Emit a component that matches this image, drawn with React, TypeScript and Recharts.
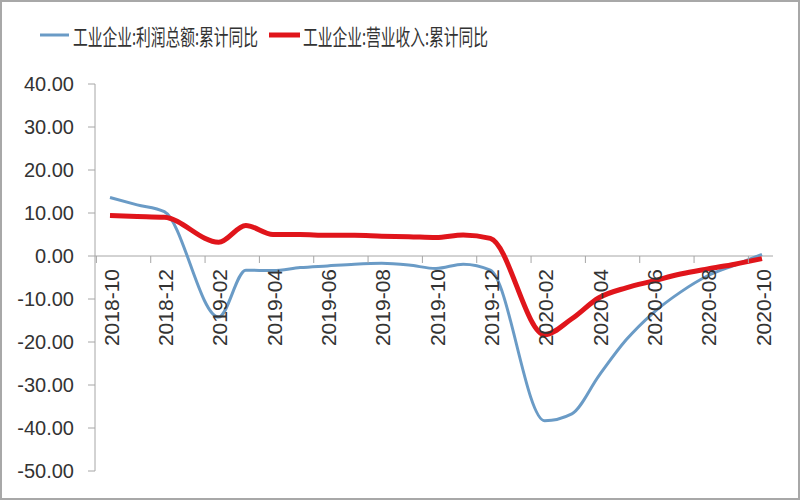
import { LineChart, Line, XAxis, YAxis, ReferenceLine } from "recharts";

// monthly cumulative YoY (%), January not published -> null
const months = [
  "2018-10", "2018-11", "2018-12", "2019-01", "2019-02", "2019-03", "2019-04",
  "2019-05", "2019-06", "2019-07", "2019-08", "2019-09", "2019-10", "2019-11",
  "2019-12", "2020-01", "2020-02", "2020-03", "2020-04", "2020-05", "2020-06",
  "2020-07", "2020-08", "2020-09", "2020-10",
];
const profit = [
  13.6, 11.9, 10.3, null, -14.2, -3.3, -3.4, -2.7, -2.3, -1.9, -1.7, -2.1, -2.9,
  -1.9, -3.3, null, -38.3, -36.7, -27.8, -19.5, -13.2, -8.4, -4.6, -2.1, 0.4,
];
const revenue = [
  9.4, 9.2, 9.0, null, 3.2, 7.1, 5.0, 5.0, 4.8, 4.8, 4.6, 4.5, 4.3, 4.9, 4.1,
  null, -18.3, -14.6, -9.7, -7.4, -5.8, -4.2, -3.0, -1.9, -0.6,
];
const yTicks = [-50, -40, -30, -20, -10, 0, 10, 20, 30, 40];

const PROFIT_NAME = "工业企业:利润总额:累计同比";
const REVENUE_NAME = "工业企业:营业收入:累计同比";

const data = months.map((m, i) => ({ month: m, profit: profit[i], revenue: revenue[i] }));

const W = 800;
const H = 500;
const TOP = 84;
const BOTTOM = 29;
const PLOT_H = H - TOP - BOTTOM;
const Y_MIN = -50;
const Y_MAX = 40;
const ZERO_Y = TOP + (PLOT_H * Y_MAX) / (Y_MAX - Y_MIN);
const HALF_STEP = 13.6;

const BLUE = "#6a9bc6";
const RED = "#e0151b";
const AXIS = "#a6a6a6";
const TEXT = "#333333";
const FONT = "'Liberation Sans', Arial, sans-serif";
const CJK = "'Noto Sans CJK SC', sans-serif";

const XTick = (props: any) => {
  const { x, payload } = props;
  return (
    <g>
      <line x1={x - HALF_STEP} x2={x - HALF_STEP} y1={ZERO_Y} y2={ZERO_Y + 7} stroke={AXIS} />
      <text
        transform={`translate(${x + 1},${ZERO_Y + 13}) rotate(-90)`}
        textAnchor="end"
        dominantBaseline="central"
        fontSize={21}
        fontFamily={FONT}
        fill={TEXT}
      >
        {payload.value}
      </text>
    </g>
  );
};

const LegendBox = () => (
  <svg
    width={W}
    height={44}
    style={{ position: "absolute", left: 0, top: 14, pointerEvents: "none" }}
  >
    <line x1={40} x2={69} y1={21} y2={21} stroke={BLUE} strokeWidth={3} />
    <g transform="translate(73,21) scale(0.67,1)">
      <text x={0} y={0} dominantBaseline="central" fontSize={22} fontFamily={CJK} fill={TEXT}>
        {PROFIT_NAME}
      </text>
    </g>
    <line x1={269} x2={300} y1={21} y2={21} stroke={RED} strokeWidth={5} />
    <g transform="translate(303,21) scale(0.67,1)">
      <text x={0} y={0} dominantBaseline="central" fontSize={22} fontFamily={CJK} fill={TEXT}>
        {REVENUE_NAME}
      </text>
    </g>
  </svg>
);

export default function App() {
  return (
    <div style={{ position: "absolute", left: 0, top: 0, width: W, height: H, background: "#fff" }}>
      <LineChart width={W} height={H} data={data} margin={{ top: TOP, right: 27, bottom: 0, left: 0 }}>
        <XAxis
          dataKey="month"
          height={BOTTOM}
          axisLine={false}
          tickLine={false}
          interval={1}
          padding={{ left: 15, right: 11 }}
          tick={<XTick />}
        />
        <YAxis
          width={95}
          domain={[Y_MIN, Y_MAX]}
          ticks={yTicks}
          allowDataOverflow
          tickFormatter={(v: number) => v.toFixed(2)}
          axisLine={{ stroke: AXIS }}
          tickLine={{ stroke: AXIS }}
          tickSize={7}
          tickMargin={14}
          tick={{ fontSize: 20, fill: TEXT, fontFamily: FONT }}
        />
        <ReferenceLine y={0} stroke={AXIS} strokeWidth={1} />
        <Line
          dataKey="profit"
          name={PROFIT_NAME}
          type="monotone"
          stroke={BLUE}
          strokeWidth={3}
          dot={false}
          connectNulls
          isAnimationActive={false}
        />
        <Line
          dataKey="revenue"
          name={REVENUE_NAME}
          type="monotone"
          stroke={RED}
          strokeWidth={5}
          dot={false}
          connectNulls
          isAnimationActive={false}
        />
      </LineChart>
      <LegendBox />
      <div
        style={{
          position: "absolute",
          left: 0,
          top: 0,
          width: W,
          height: H,
          boxSizing: "border-box",
          border: "2px solid #a8a8a8",
          pointerEvents: "none",
        }}
      />
    </div>
  );
}
